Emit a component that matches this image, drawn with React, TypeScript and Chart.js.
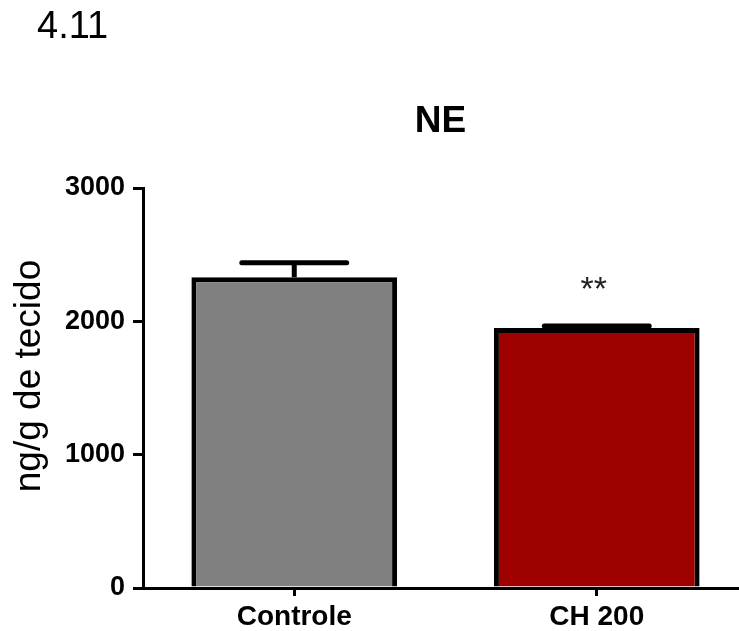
import React, { useEffect, useRef } from "react";
import { Chart, registerables } from "chart.js";

Chart.register(...registerables);

// NE content per group (ng/g of tissue): mean and SEM
const groups = ["Controle", "CH 200"];
const means = [2330, 1950];
const sems = [110, 15];
const significance = ["", "**"];
const barColors = ["#808080", "#9f0000"];
const yTicks = [0, 1000, 2000, 3000];

const FONT = "Arial, 'Liberation Sans', sans-serif";

// Error bars (stem + cap) and significance marks above each bar
const errorBarPlugin = {
  id: "errorBars",
  afterDatasetsDraw(chart: any) {
    const ctx = chart.ctx;
    const meta = chart.getDatasetMeta(0);
    const yScale = chart.scales.y;
    meta.data.forEach((bar: any, i: number) => {
      const top = yScale.getPixelForValue(means[i] + sems[i]);
      const base = bar.y;
      const capHalf = bar.width * 0.255;
      ctx.save();
      ctx.strokeStyle = "#000";
      ctx.lineCap = "butt";
      ctx.lineWidth = 5;
      ctx.beginPath();
      ctx.moveTo(bar.x, base);
      ctx.lineTo(bar.x, top);
      ctx.stroke();
      ctx.lineCap = "round";
      ctx.lineWidth = 5;
      ctx.beginPath();
      ctx.moveTo(bar.x - capHalf, top);
      ctx.lineTo(bar.x + capHalf, top);
      ctx.stroke();
      if (significance[i]) {
        ctx.fillStyle = "#222";
        ctx.font = `34px ${FONT}`;
        ctx.textAlign = "center";
        ctx.textBaseline = "alphabetic";
        ctx.fillText(significance[i], bar.x - 3, top - 26);
      }
      ctx.restore();
    });
  },
};

// Figure number, panel title and the y-axis caption
const labelsPlugin = {
  id: "panelLabels",
  afterDraw(chart: any) {
    const ctx = chart.ctx;
    const area = chart.chartArea;
    ctx.save();
    ctx.fillStyle = "#000";
    ctx.textBaseline = "alphabetic";

    ctx.font = `38px ${FONT}`;
    ctx.textAlign = "left";
    ctx.fillText("4.11", 37, 38);

    ctx.font = `bold 37px ${FONT}`;
    ctx.textAlign = "center";
    ctx.fillText("NE", (area.left + area.right) / 2 - 5, 132);

    ctx.translate(30, 376);
    ctx.rotate(-Math.PI / 2);
    ctx.font = `37px ${FONT}`;
    ctx.textAlign = "center";
    ctx.textBaseline = "middle";
    ctx.fillText("ng/g de tecido", 0, 0);
    ctx.restore();
  },
};

export default function App() {
  const canvasRef = useRef<HTMLCanvasElement | null>(null);

  useEffect(() => {
    if (!canvasRef.current) return;
    const chart = new Chart(canvasRef.current, {
      type: "bar",
      data: {
        labels: groups,
        datasets: [
          {
            data: means,
            backgroundColor: barColors,
            borderColor: "#000",
            borderWidth: 5,
            borderSkipped: "start",
            barPercentage: 0.68,
            categoryPercentage: 1,
          },
        ],
      },
      options: {
        animation: false,
        responsive: false,
        layout: { padding: { top: 188, right: 0, left: 0, bottom: 0 } },
        plugins: {
          legend: { display: false },
          title: { display: false },
          tooltip: { enabled: false },
        },
        scales: {
          x: {
            type: "category",
            offset: true,
            border: { display: true, color: "#000", width: 3 },
            grid: {
              display: true,
              drawOnChartArea: false,
              drawTicks: true,
              tickLength: 8,
              lineWidth: 3,
              color: "#000",
              offset: false,
            },
            ticks: {
              color: "#000",
              padding: 4,
              font: { family: FONT, size: 28, weight: "bold" },
              maxRotation: 0,
            },
            afterFit(scale: any) {
              scale.height = 43;
            },
          },
          y: {
            min: 0,
            max: 3000,
            border: { display: true, color: "#000", width: 3 },
            grid: {
              display: true,
              drawOnChartArea: false,
              drawTicks: true,
              tickLength: 10,
              lineWidth: 3,
              color: "#000",
            },
            afterBuildTicks(scale: any) {
              scale.ticks = yTicks.map((v) => ({ value: v }));
            },
            ticks: {
              color: "#000",
              padding: 8,
              font: { family: FONT, size: 27, weight: "bold" },
              callback: (v: any) => String(v),
            },
            afterFit(scale: any) {
              scale.width = 143;
            },
          },
        },
      },
      plugins: [errorBarPlugin, labelsPlugin],
    });
    return () => chart.destroy();
  }, []);

  return (
    <div
      style={{
        position: "absolute",
        left: 0,
        top: 0,
        width: 739,
        height: 631,
        overflow: "hidden",
        background: "#fff",
      }}
    >
      <canvas
        ref={canvasRef}
        width={748}
        height={631}
        style={{ display: "block", width: 748, height: 631 }}
      />
    </div>
  );
}
